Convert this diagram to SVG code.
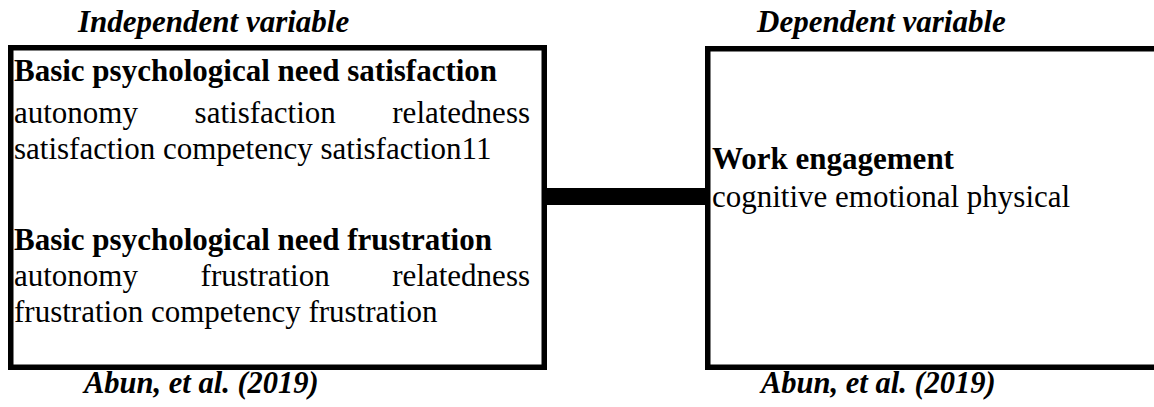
<svg xmlns="http://www.w3.org/2000/svg" width="1154" height="407" viewBox="0 0 1154 407">
<style>
.lbl{font-family:"Liberation Serif","Times New Roman",serif;font-weight:bold;font-style:italic;font-size:31px;fill:#000}
.ref{font-family:"Liberation Serif","Times New Roman",serif;font-weight:bold;font-style:italic;font-size:30.5px;fill:#000}
.hd{font-family:"Liberation Serif","Times New Roman",serif;font-weight:bold;font-size:31px;fill:#000}
.bd{font-family:"Liberation Serif","Times New Roman",serif;font-size:31px;fill:#000}
.box{fill:#fff;stroke:#000;stroke-width:5.5}
</style>
<rect width="1154" height="407" fill="#fff"/>
<text class="lbl" x="78" y="32">Independent variable</text>
<text class="lbl" x="757" y="32">Dependent variable</text>
<g id="connectors">
<rect x="545" y="188" width="162" height="17" fill="#000"/>
</g>
<g id="independent">
<rect class="box" x="10.75" y="47.75" width="533.5" height="319.5"/>
<text class="hd" x="14" y="81">Basic psychological need satisfaction</text>
<text class="bd" x="14" y="123">autonomy<tspan x="194.6">satisfaction</tspan><tspan x="392.3">relatedness</tspan></text>
<text class="bd" x="14" y="159">satisfaction competency satisfaction11</text>
<text class="hd" x="14" y="250">Basic psychological need frustration</text>
<text class="bd" x="14" y="286">autonomy<tspan x="200.6">frustration</tspan><tspan x="392.3">relatedness</tspan></text>
<text class="bd" x="14" y="322">frustration competency frustration</text>
</g>
<g id="dependent">
<rect class="box" x="707.75" y="48.75" width="460" height="318.5"/>
<text class="hd" x="712" y="169">Work engagement</text>
<text class="bd" x="712" y="207">cognitive emotional physical</text>
</g>
<text class="ref" x="84" y="393">Abun, et al. (2019)</text>
<text class="ref" x="761" y="393">Abun, et al. (2019)</text>
</svg>
